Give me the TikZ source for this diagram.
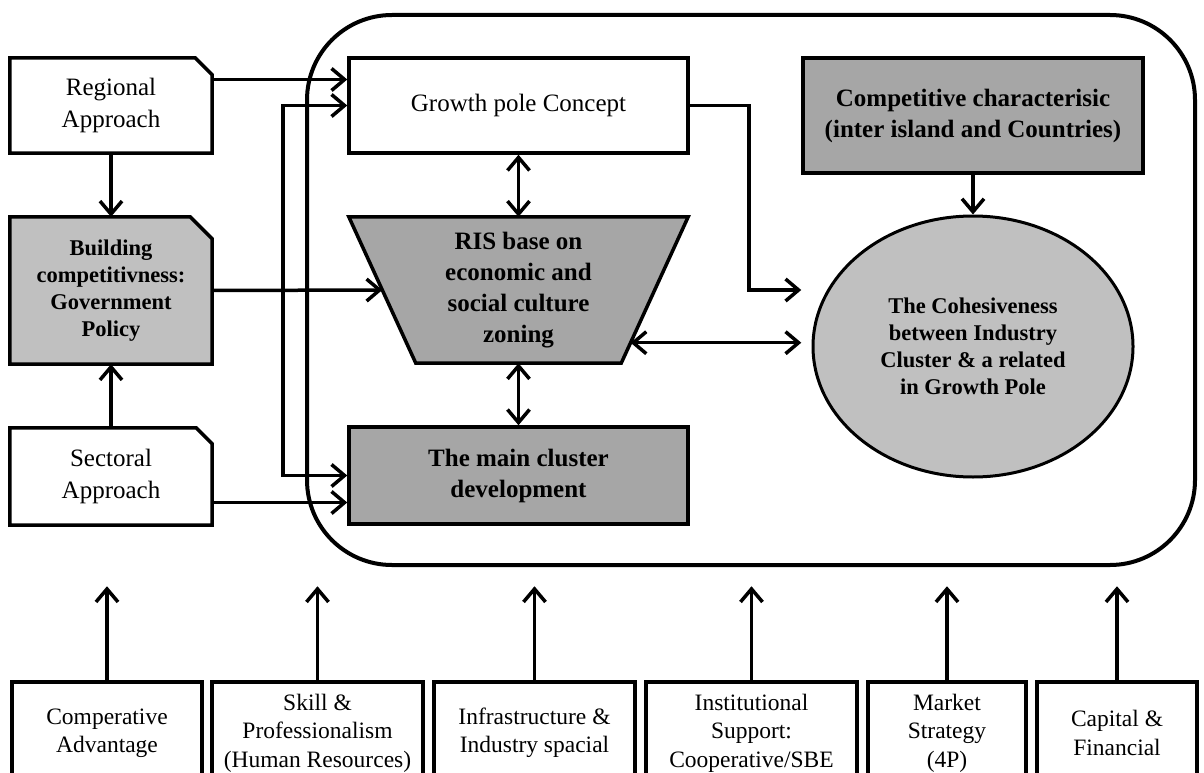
\documentclass[tikz,border=0pt]{standalone}
\usepackage{fontspec}
\setmainfont{Liberation Serif}
\usetikzlibrary{arrows.meta, calc, backgrounds, shapes.geometric}
\definecolor{lightgrey}{HTML}{C0C0C0}
\definecolor{darkgrey}{HTML}{A6A6A6}
\tikzset{
  bigtext/.style={font=\fontsize{25}{32}\selectfont},
  bigbold/.style={font=\fontsize{25}{31}\selectfont\bfseries},
  smallbold/.style={font=\fontsize{22.5}{27}\selectfont\bfseries},
  box/.style={draw, line width=3.5pt, fill=white, align=center, inner sep=0pt},
  plainbox/.style={align=center, inner sep=0pt},
  footbox/.style={box, minimum height=102pt, font=\fontsize{23.5}{28.5}\selectfont},
  conn/.style={line width=3.5pt, -{Straight Barb[length=13pt, width=22pt]}},
  twoway/.style={line width=3.5pt, {Straight Barb[length=13pt, width=22pt]}-{Straight Barb[length=13pt, width=22pt]}},
}
% outline of a box with its top right corner cut off
\newcommand{\cutbox}[3]{%
  \filldraw[line width=3.5pt, fill=#3] (#1.south west) -- (#1.north west)
    -- ([xshift=-#2]#1.north east) -- ([yshift=-#2]#1.north east)
    -- (#1.south east) -- cycle;}
\begin{document}
\begin{tikzpicture}[x=1pt, y=-1pt]
  \useasboundingbox (0,0) rectangle (1204,773);
  % --- outer frame round the growth pole part ---
  \draw[line width=4pt, rounded corners=85pt] (307,15) rectangle (1195,565);
  % left column: approaches and policy
  \node[plainbox, bigtext, minimum width=202pt, minimum height=95pt] (reg) at (111,105.5) {Regional\\Approach};
  \node[plainbox, smallbold, minimum width=202pt, minimum height=147pt] (bld) at (111,290.5) {Building\\competitivness:\\Government\\Policy};
  \node[plainbox, bigtext, minimum width=202pt, minimum height=97pt] (sec) at (111,476.5) {Sectoral\\Approach};
  % middle column
  \node[box, bigtext, minimum width=339pt, minimum height=95pt] (gp) at (518.5,105.5) {Growth pole Concept};
  \node[plainbox, bigbold, minimum width=339pt, minimum height=146pt] (ris) at (518.5,290) {RIS base on\\economic and\\social culture\\zoning};
  \node[box, bigbold, fill=darkgrey, minimum width=339pt, minimum height=97pt] (clu) at (518.5,475.5) {The main cluster\\development};
  % right column
  \node[box, bigbold, fill=darkgrey, minimum width=340pt, minimum height=115pt] (comp) at (973,115.5) {Competitive characterisic\\(inter island and Countries)};
  \node[ellipse, draw, line width=3pt, fill=lightgrey, align=center, inner sep=0pt, smallbold,
        minimum width=320pt, minimum height=261pt] (coh) at (973,346.5) {The Cohesiveness\\between Industry\\Cluster \& a related\\in Growth Pole};
  % bottom row of factors
  \node[footbox, minimum width=190pt] (cmp) at (107,733) {Comperative\\Advantage};
  \node[footbox, minimum width=211pt] (skl) at (317.5,733) {Skill \&\\Professionalism\\(Human Resources)};
  \node[footbox, minimum width=201pt] (inf) at (534.5,733) {Infrastructure \&\\Industry spacial};
  \node[footbox, minimum width=211pt] (ins) at (751.5,733) {Institutional\\Support:\\Cooperative/SBE};
  \node[footbox, minimum width=158pt] (mkt) at (947,733) {Market\\Strategy\\(4P)};
  \node[footbox, minimum width=160pt] (cap) at (1117,733) {Capital \&\\Financial};
  % shapes behind the text
  \begin{scope}[on background layer]
    \cutbox{reg}{17pt}{white}
    \cutbox{bld}{22pt}{lightgrey}
    \cutbox{sec}{16pt}{white}
    \filldraw[line width=3.5pt, fill=darkgrey] (ris.north west) -- (ris.north east)
      -- ([xshift=-67pt]ris.south east) -- ([xshift=67pt]ris.south west) -- cycle;
  \end{scope}
  % points on the slanted sides of RIS
  \coordinate (risL) at ($(ris.north west)!0.5!([xshift=67pt]ris.south west)$);
  \coordinate (risR) at ($(ris.north east)!0.86!([xshift=-67pt]ris.south east)$);
  \coordinate (bus) at (283,290.5);
  % connectors
  \draw[conn] (reg) -- (bld);
  \draw[conn] (sec) -- (bld);
  \draw[conn] ([yshift=26pt]reg.east) -- ([yshift=26pt]gp.west);
  \draw[twoway] (gp.west) -| (bus) |- (clu.west);
  \draw[conn] (bld.east) -- (risL);
  \draw[conn] ([yshift=-26pt]sec.east) -- ([yshift=-26pt]sec.east -| clu.west);
  \draw[twoway] (gp) -- (ris);
  \draw[twoway] (ris) -- (clu);
  \draw[conn] (gp.east) -- ++(59,0) |- (comp.west |- risL);
  \draw[twoway] (risR) -- (risR -| comp.west);
  \draw[conn] (comp) -- (coh);
  \foreach \f in {cmp,skl,inf,ins,mkt,cap}
    \draw[conn] (\f.north) -- ++(0,-94);
\end{tikzpicture}
\end{document}
